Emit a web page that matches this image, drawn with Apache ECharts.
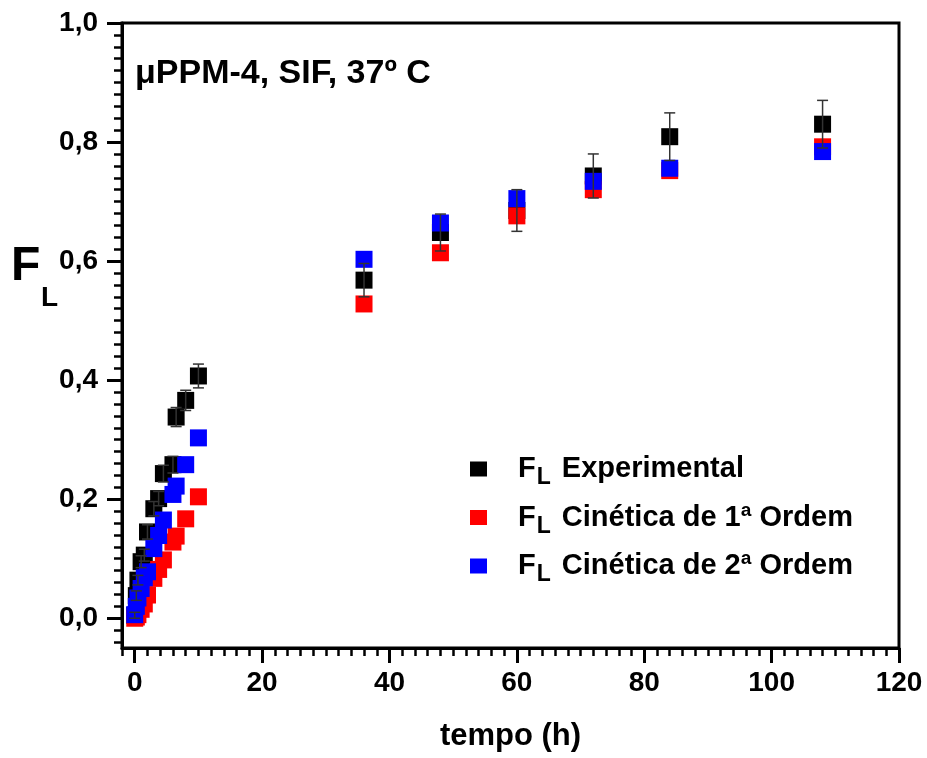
<!DOCTYPE html>
<html>
<head>
<meta charset="utf-8">
<script src="https://cdn.jsdelivr.net/npm/echarts@6/dist/echarts.min.js"></script>
<style>
html,body{margin:0;padding:0;background:#fff;}
#chart{width:927px;height:758px;}
</style>
</head>
<body>
<div id="chart"></div>
<script>
// ---- data ----
const tempo        = [0, 0.25, 0.5, 1, 1.5, 2, 3, 3.75, 4.5, 6, 6.5, 8, 10, 36, 48, 60, 72, 84, 108];
const experimental = [0.005, 0.038, 0.064, 0.095, 0.106, 0.145, 0.184, 0.201, 0.243, 0.258, 0.338, 0.366, 0.407, 0.568, 0.648, 0.685, 0.743, 0.809, 0.830];
const erro         = [0.005, 0.008, 0.008, 0.010, 0.010, 0.012, 0.012, 0.012, 0.014, 0.014, 0.016, 0.017, 0.020, 0.028, 0.031, 0.035, 0.037, 0.040, 0.040];
const ordem1       = [0.000, 0.002, 0.006, 0.015, 0.024, 0.039, 0.067, 0.082, 0.098, 0.128, 0.138, 0.167, 0.204, 0.528, 0.614, 0.676, 0.720, 0.752, 0.792];
const ordem2       = [0.006, 0.020, 0.034, 0.050, 0.068, 0.078, 0.117, 0.139, 0.165, 0.208, 0.222, 0.258, 0.303, 0.603, 0.664, 0.705, 0.734, 0.756, 0.784];

const xTicks = [0, 20, 40, 60, 80, 100, 120];
const yTicks = [0, 0.2, 0.4, 0.6, 0.8, 1.0];
const seriesNames = ['Experimental', 'Cinética de 1ª Ordem', 'Cinética de 2ª Ordem'];
const annotation = 'μPPM-4, SIF, 37º C';
const xName = 'tempo (h)';

// minor tick positions
const xMinor = [];
for (let v = -2; v <= 120; v += 2) { if (v % 20 !== 0) xMinor.push(v); }
const yMinor = [];
for (let i = -2; i <= 50; i++) { if (i % 10 !== 0) yMinor.push(+(i * 0.02).toFixed(2)); }

const FONT = '"Liberation Sans", Arial, sans-serif';
const pts = arr => tempo.map((t, i) => [t, arr[i]]);

const chart = echarts.init(document.getElementById('chart'), null, {renderer: 'canvas'});

const option = {
  animation: false,
  backgroundColor: '#ffffff',
  grid: {left: 122, right: 28, top: 23, bottom: 110, show: true, borderColor: '#000', borderWidth: 3, backgroundColor: 'transparent'},
  xAxis: [
    {
      type: 'value', min: -2, max: 120, position: 'bottom', splitLine: {show: false},
      name: xName, nameLocation: 'middle', nameGap: 73,
      nameTextStyle: {fontFamily: FONT, fontWeight: 'bold', fontSize: 31, color: '#000'},
      axisLine: {show: true, onZero: false, lineStyle: {color: '#000', width: 3}},
      axisTick: {show: true, inside: false, customValues: xTicks, length: 15, lineStyle: {color: '#000', width: 3}},
      axisLabel: {show: true, customValues: xTicks, fontFamily: FONT, fontWeight: 'bold', fontSize: 28, color: '#000', margin: 21}
    },
    {
      type: 'value', min: -2, max: 120, position: 'bottom', gridIndex: 0, splitLine: {show: false},
      axisLine: {show: false, onZero: false},
      axisTick: {show: true, inside: false, customValues: xMinor, length: 8, lineStyle: {color: '#000', width: 2.5}},
      axisLabel: {show: false}
    }
  ],
  yAxis: [
    {
      type: 'value', min: -0.05, max: 1.0, position: 'left', splitLine: {show: false},
      axisLine: {show: true, onZero: false, lineStyle: {color: '#000', width: 3}},
      axisTick: {show: true, inside: false, customValues: yTicks, length: 15, lineStyle: {color: '#000', width: 3}},
      axisLabel: {show: true, customValues: yTicks, fontFamily: FONT, fontWeight: 'bold', fontSize: 28, color: '#000', margin: 24,
        formatter: v => v.toFixed(1).replace('.', ',')}
    },
    {
      type: 'value', min: -0.05, max: 1.0, position: 'left', gridIndex: 0, splitLine: {show: false},
      axisLine: {show: false, onZero: false},
      axisTick: {show: true, inside: false, customValues: yMinor, length: 8, lineStyle: {color: '#000', width: 2.5}},
      axisLabel: {show: false}
    }
  ],
  legend: {
    show: true,
    orient: 'vertical',
    left: 470, top: 448.5, padding: 0,
    itemWidth: 17, itemHeight: 15, itemGap: 7.5,
    icon: 'rect',
    selectedMode: false,
    data: seriesNames,
    formatter: name => '{f|F}{s|L}{t| ' + name + '}',
    textStyle: {
      color: '#000',
      rich: {
        f: {fontFamily: FONT, fontWeight: 'bold', fontSize: 29, lineHeight: 29, color: '#000', padding: [0, 0, 0, 26]},
        s: {fontFamily: FONT, fontWeight: 'bold', fontSize: 23, lineHeight: 23, color: '#000', padding: [18, 0, 0, 1]},
        t: {fontFamily: FONT, fontWeight: 'bold', fontSize: 29, lineHeight: 29, color: '#000', padding: [0, 0, 0, 3]}
      }
    }
  },
  graphic: [
    {type: 'text', left: 135, top: 57, style: {text: annotation, font: 'bold 34px ' + FONT, fill: '#000'}},
    {type: 'text', x: 11, y: 267, style: {text: 'F', font: 'bold 48px ' + FONT, fill: '#000', textVerticalAlign: 'middle', verticalAlign: 'middle'}},
    {type: 'text', x: 41, y: 298, style: {text: 'L', font: 'bold 28px ' + FONT, fill: '#000', textVerticalAlign: 'middle', verticalAlign: 'middle'}}
  ],
  series: [
    {name: seriesNames[0], type: 'scatter', symbol: 'rect', symbolSize: 17, itemStyle: {color: '#000000', opacity: 1}, data: pts(experimental), z: 2},
    {name: seriesNames[1], type: 'scatter', symbol: 'rect', symbolSize: 17, itemStyle: {color: '#ff0000', opacity: 1}, data: pts(ordem1), z: 2},
    {name: seriesNames[2], type: 'scatter', symbol: 'rect', symbolSize: 17, itemStyle: {color: '#0000ff', opacity: 1}, data: pts(ordem2), z: 2},
    {
      name: 'erro', type: 'custom', z: 5,
      data: tempo.map((t, i) => [t, experimental[i] - erro[i], experimental[i] + erro[i]]),
      renderItem: function (params, api) {
        const lo = api.coord([api.value(0), api.value(1)]);
        const hi = api.coord([api.value(0), api.value(2)]);
        const w = 5.5;
        const st = {stroke: '#333', lineWidth: 1.5};
        return {
          type: 'group',
          children: [
            {type: 'line', shape: {x1: lo[0], y1: lo[1], x2: hi[0], y2: hi[1]}, style: st},
            {type: 'line', shape: {x1: hi[0] - w, y1: hi[1], x2: hi[0] + w, y2: hi[1]}, style: st},
            {type: 'line', shape: {x1: lo[0] - w, y1: lo[1], x2: lo[0] + w, y2: lo[1]}, style: st}
          ]
        };
      }
    }
  ]
};
chart.setOption(option);
</script>
</body>
</html>
